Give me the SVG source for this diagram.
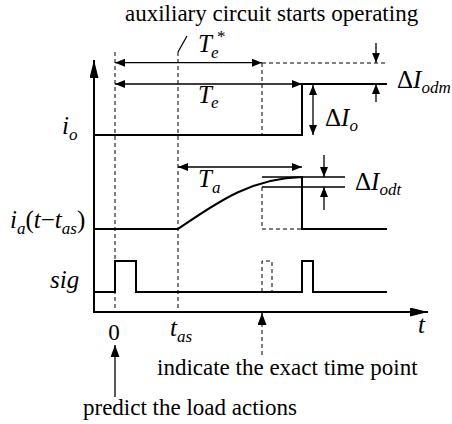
<svg xmlns="http://www.w3.org/2000/svg" width="452" height="424" viewBox="0 0 452 424">
<style>
text{font-family:"Liberation Serif","Times New Roman",serif;fill:#000}
.it{font-style:italic}
.lbl{font-size:23px}
.v{font-size:25px}
.s{font-size:17px}
.wave{fill:none;stroke:#000;stroke-width:2}
.dim{fill:none;stroke:#000;stroke-width:1.3}
.dash{fill:none;stroke:#000;stroke-width:1;stroke-dasharray:4 3}
</style>
<defs>
<marker id="ah" viewBox="0 0 10 8" refX="10" refY="4" markerWidth="10" markerHeight="8" markerUnits="userSpaceOnUse" orient="auto-start-reverse"><path d="M0,0 L10,4 L0,8 z" fill="#000"/></marker>
<marker id="big" viewBox="0 0 18 9" refX="18" refY="4.5" markerWidth="18" markerHeight="9" markerUnits="userSpaceOnUse" orient="auto-start-reverse"><path d="M0,0 L18,4.5 L0,9 z" fill="#000"/></marker>
<marker id="mid" viewBox="0 0 12 9" refX="12" refY="4.5" markerWidth="12" markerHeight="9" markerUnits="userSpaceOnUse" orient="auto-start-reverse"><path d="M0,0 L12,4.5 L0,9 z" fill="#000"/></marker>
</defs>

<g id="axes">
<path class="wave" d="M94,60 V312 H428" marker-start="url(#big)" marker-end="url(#big)"/>
</g>

<g id="guides">
<path class="dash" d="M115,52 V312"/>
<path class="dash" d="M178,52 V312"/>
<path class="dash" d="M262,63 V135"/>
<path class="dash" d="M262,63 H387"/>
<path class="dash" d="M262,187 V229 H302"/>
<path class="dash" d="M262,292 V261 H272 V292"/>
<path class="dim" d="M178,52 L187,36"/>
</g>

<g id="waveforms">
<path id="io" class="wave" d="M94,135 H302 V84 H387"/>
<path id="ia" class="wave" d="M94,229 H178 C215,204 250,178 302,177 V229 H387"/>
<path id="sig" class="wave" d="M94,292 H115 V261 H136 V292 H302 V261 H313 V292 H387"/>
</g>

<g id="connectors">
<path class="dim" d="M115,62.7 H262" marker-start="url(#ah)" marker-end="url(#ah)"/>
<path class="dim" d="M115,84 H302" marker-start="url(#ah)" marker-end="url(#ah)"/>
<path class="dim" d="M313,85 V135" marker-start="url(#ah)" marker-end="url(#ah)"/>
<path class="dim" d="M178,167 H302" marker-start="url(#ah)" marker-end="url(#ah)"/>
<path class="dim" d="M376,43 V62.7" marker-end="url(#ah)"/>
<path class="dim" d="M376,102 V84" marker-end="url(#ah)"/>
<path class="dim" d="M262,177 H345 M262,187 H345"/>
<path class="dim" d="M324,155 V177" marker-end="url(#ah)"/>
<path class="dim" d="M324,210 V187" marker-end="url(#ah)"/>
<path class="dim" d="M115,397 V345" marker-end="url(#mid)"/>
<path class="dash" d="M262,355 V322"/>
<path class="dim" d="M262,323 V313" marker-end="url(#mid)"/>
</g>

<g id="labels">
<text class="lbl" x="125" y="21">auxiliary circuit starts operating</text>
<text class="v it" x="198" y="52">T</text><text class="s it" x="211" y="58">e</text><text class="s" x="217" y="42">*</text>
<text class="v it" x="198" y="103">T</text><text class="s it" x="211" y="108">e</text>
<text class="v" x="397" y="88">Δ<tspan class="it">I</tspan><tspan class="s it" dy="5">odm</tspan></text>
<text class="v" x="325" y="126">Δ<tspan class="it">I</tspan><tspan class="s it" dy="5">o</tspan></text>
<text class="v it" x="62" y="134">i<tspan class="s" dy="6">o</tspan></text>
<text class="v it" x="198" y="187">T</text><text class="s it" x="212" y="193">a</text>
<text class="v" x="355" y="190">Δ<tspan class="it">I</tspan><tspan class="s it" dy="5">odt</tspan></text>
<text class="v it" x="10" y="228">i<tspan class="s" dy="6">a</tspan><tspan dy="-6" font-style="normal">(</tspan>t<tspan font-style="normal">−</tspan>t<tspan class="s" dy="6">as</tspan><tspan dy="-6" font-style="normal">)</tspan></text>
<text class="v it" x="50" y="288">sig</text>
<text class="lbl" x="114" y="340" text-anchor="middle">0</text>
<text class="v it" x="170" y="336">t<tspan class="s" dy="6">as</tspan></text>
<text class="v it" x="418" y="333">t</text>
<text class="lbl" x="157" y="375">indicate the exact time point</text>
<text class="lbl" x="83" y="415">predict the load actions</text>
</g>
</svg>
